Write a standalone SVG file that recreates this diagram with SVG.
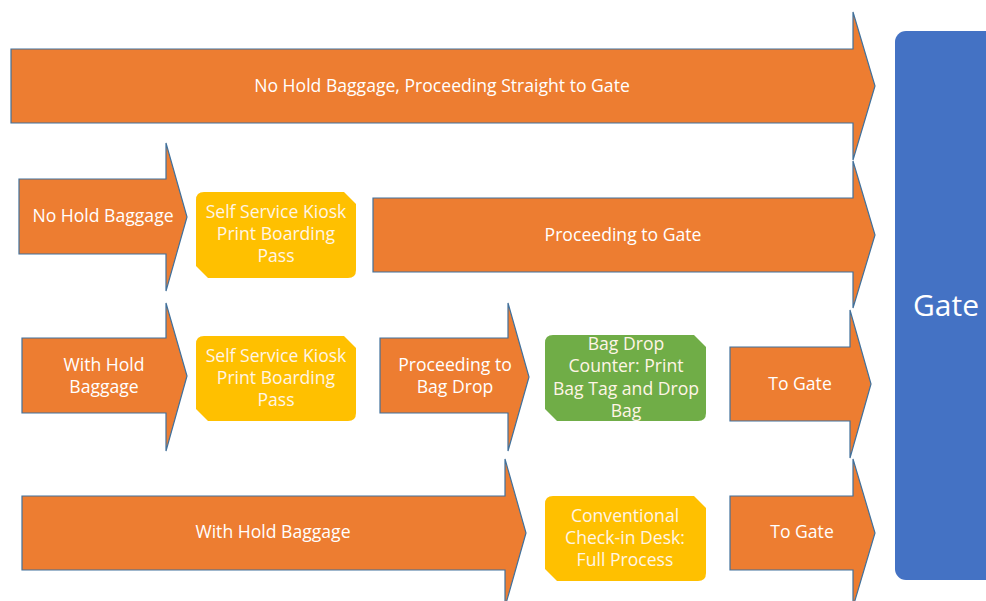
<svg xmlns="http://www.w3.org/2000/svg" width="986" height="601" viewBox="0 0 986 601">
<style>
.arr{fill:#ED7D31;stroke:#41719C;stroke-width:1.2;stroke-linejoin:miter}
.yel{fill:#FFC000}
.grn{fill:#70AD47}
.t{font-family:"Open Sans","Noto Sans",sans-serif;font-size:17.6px;fill:#FFFFFF;text-anchor:middle}
.tl{font-family:"Open Sans","Noto Sans",sans-serif;font-size:17.6px;fill:#FFF5E6;text-anchor:middle}
.g{font-family:"Open Sans","Noto Sans",sans-serif;font-size:30px;fill:#FFFFFF;text-anchor:middle}
</style>
<rect width="986" height="601" fill="#FFFFFF"/>
<g id="gate">
<rect x="895" y="31" width="110" height="549" rx="11" fill="#4472C4"/>
<text class="g" x="946" y="316">Gate</text>
</g>
<g id="connectors">
<g id="arrow-no-hold-straight">
<path class="arr" d="M11,49 H853 V12 L875,86 L853,160 V123 H11 Z"/>
<text class="t" x="442" y="92">No Hold Baggage, Proceeding Straight to Gate</text>
</g>
<g id="arrow-no-hold">
<path class="arr" d="M19,179 H166 V143 L187,217 L166,291 V254 H19 Z"/>
<text class="t" x="103" y="222">No Hold Baggage</text>
</g>
<g id="arrow-proceeding-gate">
<path class="arr" d="M373,198 H853 V161 L875,235 L853,308 V272 H373 Z"/>
<text class="t" x="623" y="241">Proceeding to Gate</text>
</g>
<g id="arrow-with-hold">
<path class="arr" d="M22,338 H166 V303 L187,376 L166,451 V413 H22 Z"/>
<text class="t" x="104" y="371">With Hold</text>
<text class="t" x="104" y="393">Baggage</text>
</g>
<g id="arrow-bag-drop">
<path class="arr" d="M380,338 H508 V303 L529,377 L508,451 V413 H380 Z"/>
<text class="t" x="455" y="371">Proceeding to</text>
<text class="t" x="455" y="393">Bag Drop</text>
</g>
<g id="arrow-to-gate-1">
<path class="arr" d="M730,347 H850 V310 L871,384 L850,458 V421 H730 Z"/>
<text class="t" x="800" y="390">To Gate</text>
</g>
<g id="arrow-with-hold-2">
<path class="arr" d="M22,496 H505 V459 L526,533 L505,607 V570 H22 Z"/>
<text class="t" x="273" y="538">With Hold Baggage</text>
</g>
<g id="arrow-to-gate-2">
<path class="arr" d="M730,496 H853 V459 L875,533 L853,607 V570 H730 Z"/>
<text class="t" x="802" y="538">To Gate</text>
</g>
</g>
<g id="kiosk-1">
<path class="yel" d="M204,192 H344 L356,204 V270 Q356,278 348,278 H208 L196,266 V200 Q196,192 204,192 Z"/>
<text class="tl" x="276" y="218">Self Service Kiosk</text>
<text class="tl" x="276" y="240">Print Boarding</text>
<text class="tl" x="276" y="262">Pass</text>
</g>
<g id="kiosk-2">
<path class="yel" d="M204,336 H344 L356,348 V413 Q356,421 348,421 H208 L196,409 V344 Q196,336 204,336 Z"/>
<text class="tl" x="276" y="362">Self Service Kiosk</text>
<text class="tl" x="276" y="384">Print Boarding</text>
<text class="tl" x="276" y="406">Pass</text>
</g>
<g id="bag-drop">
<path class="grn" d="M553,335 H694 L706,347 V413 Q706,421 698,421 H557 L545,409 V343 Q545,335 553,335 Z"/>
<text class="tl" x="626" y="350">Bag Drop</text>
<text class="tl" x="626" y="372">Counter: Print</text>
<text class="tl" x="626" y="395">Bag Tag and Drop</text>
<text class="tl" x="626" y="417">Bag</text>
</g>
<g id="checkin-desk">
<path class="yel" d="M553,496 H694 L706,508 V573 Q706,581 698,581 H557 L545,569 V504 Q545,496 553,496 Z"/>
<text class="tl" x="625" y="522">Conventional</text>
<text class="tl" x="625" y="544">Check-in Desk:</text>
<text class="tl" x="625" y="566">Full Process</text>
</g>
</svg>
